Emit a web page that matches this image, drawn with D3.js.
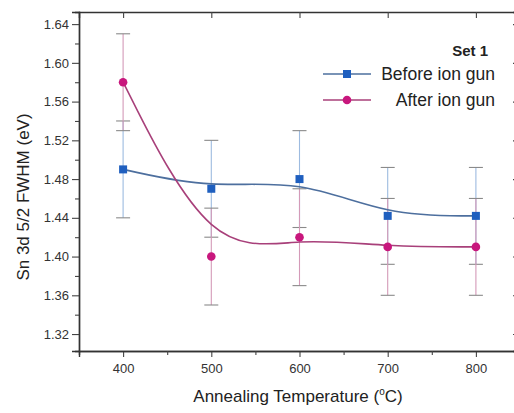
<!DOCTYPE html>
<html>
<head>
<meta charset="utf-8">
<script src="https://cdn.jsdelivr.net/npm/d3@7"></script>
<style>
  html, body { margin: 0; padding: 0; background: #fff; }
  svg { display: block; font-family: "Liberation Sans", Arial, sans-serif; }
</style>
</head>
<body>
<svg id="chart" width="514" height="413"></svg>
<script>
// Annealing temperatures (°C)
const temperatures = [400, 500, 600, 700, 800];
// Sn 3d 5/2 FWHM (eV), before and after ion-gun cleaning
const beforeIonGun = [1.49, 1.47, 1.48, 1.442, 1.442];
const afterIonGun  = [1.58, 1.40, 1.42, 1.41, 1.41];
// Symmetric error on every point (eV)
const beforeErr = [0.05, 0.05, 0.05, 0.05, 0.05];
const afterErr  = [0.05, 0.05, 0.05, 0.05, 0.05];

const xTicks = [400, 500, 600, 700, 800];
const yTicks = [1.32, 1.36, 1.40, 1.44, 1.48, 1.52, 1.56, 1.60, 1.64];

const svg = d3.select("#chart");
const plotLeft = 79, plotRight = 520, plotTop = 12, plotBottom = 351;

const x = d3.scaleLinear().domain([350, 850]).range([plotLeft, plotRight]);
const y = d3.scaleLinear().domain([1.3025, 1.6525]).range([plotBottom, plotTop]);

const series = [
  { name: "Before ion gun", values: beforeIonGun, err: beforeErr,
    line: "#4d6f9e", marker: "#1f5fbf", bar: "#9dbbe0", shape: "square" },
  { name: "After ion gun", values: afterIonGun, err: afterErr,
    line: "#a8407a", marker: "#c8177d", bar: "#d49ab8", shape: "circle" }
];

// Axes: ticks outside on bottom/left, inside on top/right
const gx = svg.append("g").attr("transform", `translate(0,${plotBottom})`)
  .call(d3.axisBottom(x).tickValues(xTicks).tickSize(6).tickPadding(7).tickFormat(d3.format("d")));
const gxMinor = svg.append("g").attr("transform", `translate(0,${plotBottom})`)
  .call(d3.axisBottom(x).tickValues([450, 550, 650, 750]).tickSize(4).tickFormat(""));
const gy = svg.append("g").attr("transform", `translate(${plotLeft},0)`)
  .call(d3.axisLeft(y).tickValues(yTicks).tickSize(7).tickPadding(3).tickFormat(d3.format(".2f")));
const gyMinor = svg.append("g").attr("transform", `translate(${plotLeft},0)`)
  .call(d3.axisLeft(y).tickValues(d3.range(1.34, 1.64, 0.04)).tickSize(4).tickFormat(""));
const gt = svg.append("g").attr("transform", `translate(0,${plotTop})`)
  .call(d3.axisTop(x).tickValues(xTicks).tickSize(-6).tickFormat(""));
const gr = svg.append("g").attr("transform", `translate(${plotRight},0)`)
  .call(d3.axisRight(y).tickValues(yTicks).tickSize(-7).tickFormat(""));

[gx, gxMinor, gy, gyMinor, gt, gr].forEach(g => {
  g.select(".domain").attr("stroke", "#333").attr("stroke-width", 1.4);
  g.selectAll(".tick line").attr("stroke", "#444").attr("stroke-width", 1.1);
  g.selectAll(".tick text").attr("fill", "#333");
});
gx.selectAll(".tick text").attr("font-size", 13);
gy.selectAll(".tick text").attr("font-size", 13);

// Error bars
series.forEach(s => {
  const g = svg.append("g");
  s.values.forEach((v, i) => {
    const cx = x(temperatures[i]);
    g.append("line").attr("x1", cx).attr("x2", cx)
      .attr("y1", y(v - s.err[i])).attr("y2", y(v + s.err[i]))
      .attr("stroke", s.bar).attr("stroke-width", 1.1);
    [v - s.err[i], v + s.err[i]].forEach(e => {
      g.append("line").attr("x1", cx - 7).attr("x2", cx + 7)
        .attr("y1", y(e)).attr("y2", y(e))
        .attr("stroke", "#8a8a8a").attr("stroke-width", 1.1);
    });
  });
});

// Smoothed trend lines
const curve = d3.line()
  .x((d, i) => x(temperatures[i]))
  .y(d => y(d))
  .curve(d3.curveBasis);
series.forEach(s => {
  svg.append("path").attr("d", curve(s.values))
    .attr("fill", "none").attr("stroke", s.line).attr("stroke-width", 1.6);
});

// Markers
function drawMarker(g, shape, cx, cy, color) {
  if (shape === "square") {
    g.append("rect").attr("x", cx - 4).attr("y", cy - 4).attr("width", 8).attr("height", 8)
      .attr("fill", color);
  } else {
    g.append("circle").attr("cx", cx).attr("cy", cy).attr("r", 4.3).attr("fill", color);
  }
}
series.forEach(s => {
  const g = svg.append("g");
  s.values.forEach((v, i) => drawMarker(g, s.shape, x(temperatures[i]), y(v), s.marker));
});

// Legend
svg.append("text").attr("x", 488).attr("y", 56).attr("text-anchor", "end")
  .attr("font-size", 15).attr("font-weight", "bold").attr("fill", "#222").text("Set 1");
const legendRows = [
  { s: series[0], y: 74 },
  { s: series[1], y: 100 }
];
legendRows.forEach(r => {
  svg.append("line").attr("x1", 323).attr("x2", 371).attr("y1", r.y).attr("y2", r.y)
    .attr("stroke", r.s.line).attr("stroke-width", 1.3);
  drawMarker(svg, r.s.shape, 347, r.y, r.s.marker);
  svg.append("text").attr("x", 495).attr("y", r.y + 6).attr("text-anchor", "end")
    .attr("font-size", 17.5).attr("fill", "#222").text(r.s.name);
});

// Axis titles
const xt = svg.append("text").attr("x", 298).attr("y", 402).attr("text-anchor", "middle")
  .attr("font-size", 17).attr("fill", "#222");
xt.append("tspan").text("Annealing Temperature (");
xt.append("tspan").attr("font-size", 10).attr("dy", -7).text("o");
xt.append("tspan").attr("dy", 7).text("C)");

svg.append("text")
  .attr("transform", "translate(29,197) rotate(-90)")
  .attr("text-anchor", "middle").attr("font-size", 17).attr("fill", "#222")
  .text("Sn 3d 5/2 FWHM (eV)");
</script>
</body>
</html>
